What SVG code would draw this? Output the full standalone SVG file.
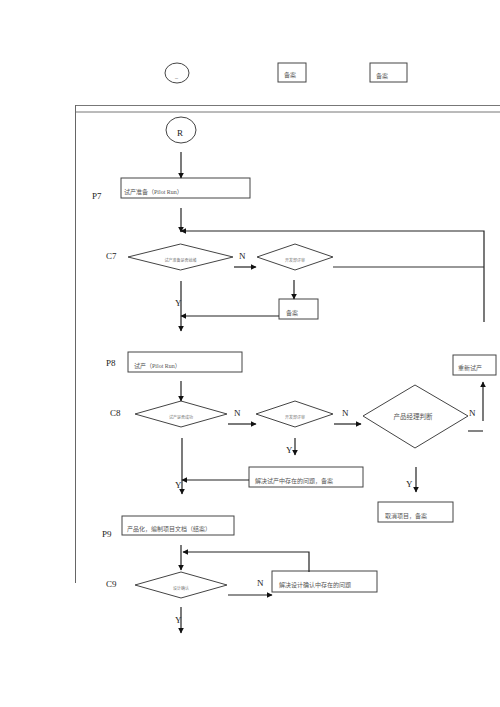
<svg xmlns="http://www.w3.org/2000/svg" width="500" height="707" viewBox="0 0 500 707">
<defs>
<marker id="ah" viewBox="0 0 10 10" refX="9" refY="5" markerWidth="6" markerHeight="6" orient="auto" markerUnits="userSpaceOnUse"><path d="M0,0 L10,5 L0,10 z" fill="#111"/></marker>
<style>
.s{fill:#fff;stroke:#444;stroke-width:1}
.l{fill:none;stroke:#333;stroke-width:1.2}
.a{fill:none;stroke:#222;stroke-width:1.2;marker-end:url(#ah)}
.t{font-family:"Liberation Serif","Noto Sans CJK SC",serif;font-size:6px;fill:#555}
.tt{font-family:"Liberation Serif","Noto Sans CJK SC",serif;font-size:4px;fill:#777}
.lb{font-family:"Liberation Serif","Noto Sans CJK SC",serif;font-size:9px;fill:#222}
.m{font-family:"Noto Sans CJK SC",sans-serif;font-size:6.5px;fill:#555}
</style>
</defs>
<rect width="500" height="707" fill="#fff"/>
<g id="frame">
<line x1="75" y1="105.5" x2="500" y2="105.5" stroke="#777" stroke-width="1"/>
<line x1="75" y1="112" x2="500" y2="112" stroke="#777" stroke-width="1"/>
<line x1="75.5" y1="105" x2="75.5" y2="583" stroke="#666" stroke-width="1"/>
</g>
<g id="top-circle"><ellipse class="s" cx="177" cy="73" rx="12" ry="10"/><text class="t" x="175" y="78">_</text></g>
<g id="top-box1"><rect class="s" x="278" y="63" width="28" height="19"/><text class="t" x="284" y="77">备案</text></g>
<g id="top-box2"><rect class="s" x="370" y="63" width="37" height="19"/><text class="t" x="376" y="78">备案</text></g>
<g id="labels">
<text class="lb" x="92" y="199">P7</text>
<text class="lb" x="106" y="259">C7</text>
<text class="lb" x="106" y="366">P8</text>
<text class="lb" x="110" y="416">C8</text>
<text class="lb" x="102" y="537">P9</text>
<text class="lb" x="106" y="587">C9</text>
</g>
<g id="R"><ellipse class="s" cx="181" cy="130" rx="15" ry="13"/><text class="lb" x="177" y="136" font-size="8">R</text></g>
<g id="P7"><rect class="s" x="121" y="178" width="129" height="20"/><text class="t" x="124" y="194">试产准备（Pilot Run）</text></g>
<g id="C7"><polygon class="s" points="128,257 180.5,244 233,257 180.5,270"/><text class="tt" x="180.5" y="262" text-anchor="middle">试产准备是否就绪</text></g>
<g id="C7b"><polygon class="s" points="257,257 295,244 333,257 295,270"/><text class="tt" x="295" y="262" text-anchor="middle">开发部评审</text></g>
<g id="C7-file"><rect class="s" x="279" y="299" width="39" height="20"/><text class="t" x="286" y="315">备案</text></g>
<g id="P8"><rect class="s" x="128" y="352" width="114" height="20"/><text class="t" x="134" y="368">试产（Pilot Run）</text></g>
<g id="C8"><polygon class="s" points="135,414 181,401 227,414 181,427"/><text class="tt" x="181" y="419" text-anchor="middle">试产是否成功</text></g>
<g id="C8b"><polygon class="s" points="256,414 295,401 333,414 295,427"/><text class="tt" x="295" y="419" text-anchor="middle">开发部评审</text></g>
<g id="PM"><polygon class="s" points="363,416 415,385 468,416 415,448"/><text class="m" x="413" y="419" text-anchor="middle">产品经理判断</text></g>
<g id="rerun"><rect class="s" x="453" y="355" width="43" height="20"/><text class="t" x="458" y="370">重新试产</text></g>
<g id="fix8"><rect class="s" x="249" y="467" width="114" height="20"/><text class="t" x="255" y="483">解决试产中存在的问题，备案</text></g>
<g id="cancel"><rect class="s" x="378" y="502" width="75" height="20"/><text class="t" x="385" y="518">取消项目，备案</text></g>
<g id="P9"><rect class="s" x="122" y="516" width="112" height="19"/><text class="t" x="127" y="531">产品化，编制项目文档（结案）</text></g>
<g id="C9"><polygon class="s" points="135,585 181,572 227,585 181,598"/><text class="tt" x="181" y="590" text-anchor="middle">设计确认</text></g>
<g id="fix9"><rect class="s" x="272" y="571" width="105" height="21"/><text class="t" x="279" y="587">解决设计确认中存在的问题</text></g>
<g id="connectors">
<line class="a" x1="181" y1="152" x2="181" y2="178"/>
<line class="a" x1="181" y1="208" x2="181" y2="232"/>
<polyline class="a" points="484,322 484,231 181,231"/>
<line class="a" x1="234" y1="267" x2="256" y2="267"/>
<polyline class="l" points="333,267 484,267"/>
<line class="a" x1="294" y1="280" x2="294" y2="299"/>
<line class="a" x1="279" y1="316" x2="181" y2="316"/>
<line class="a" x1="181" y1="281" x2="181" y2="331"/>
<line class="a" x1="181" y1="381" x2="181" y2="401"/>
<line class="a" x1="228" y1="424" x2="256" y2="424"/>
<line class="a" x1="334" y1="424" x2="361" y2="424"/>
<line class="a" x1="483" y1="421" x2="483" y2="382"/>
<line class="l" x1="468" y1="431" x2="483" y2="431"/>
<line class="a" x1="295" y1="438" x2="295" y2="455"/>
<line class="a" x1="416" y1="467" x2="416" y2="492"/>
<line class="a" x1="249" y1="480" x2="182" y2="480"/>
<line class="a" x1="182" y1="438" x2="182" y2="494"/>
<line class="a" x1="181" y1="545" x2="181" y2="570"/>
<polyline class="a" points="309,572 309,552 183,552"/>
<line class="a" x1="228" y1="595" x2="272" y2="595"/>
<line class="a" x1="181" y1="607" x2="181" y2="633"/>
</g>
<g id="connector-labels">
<text class="lb" x="239" y="259">N</text>
<text class="lb" x="175" y="306">Y</text>
<text class="lb" x="234" y="416">N</text>
<text class="lb" x="342" y="416">N</text>
<text class="lb" x="469" y="416">N</text>
<text class="lb" x="286" y="453">Y</text>
<text class="lb" x="175" y="488">Y</text>
<text class="lb" x="406" y="487">Y</text>
<text class="lb" x="257" y="586">N</text>
<text class="lb" x="175" y="623">Y</text>
</g>
</svg>
